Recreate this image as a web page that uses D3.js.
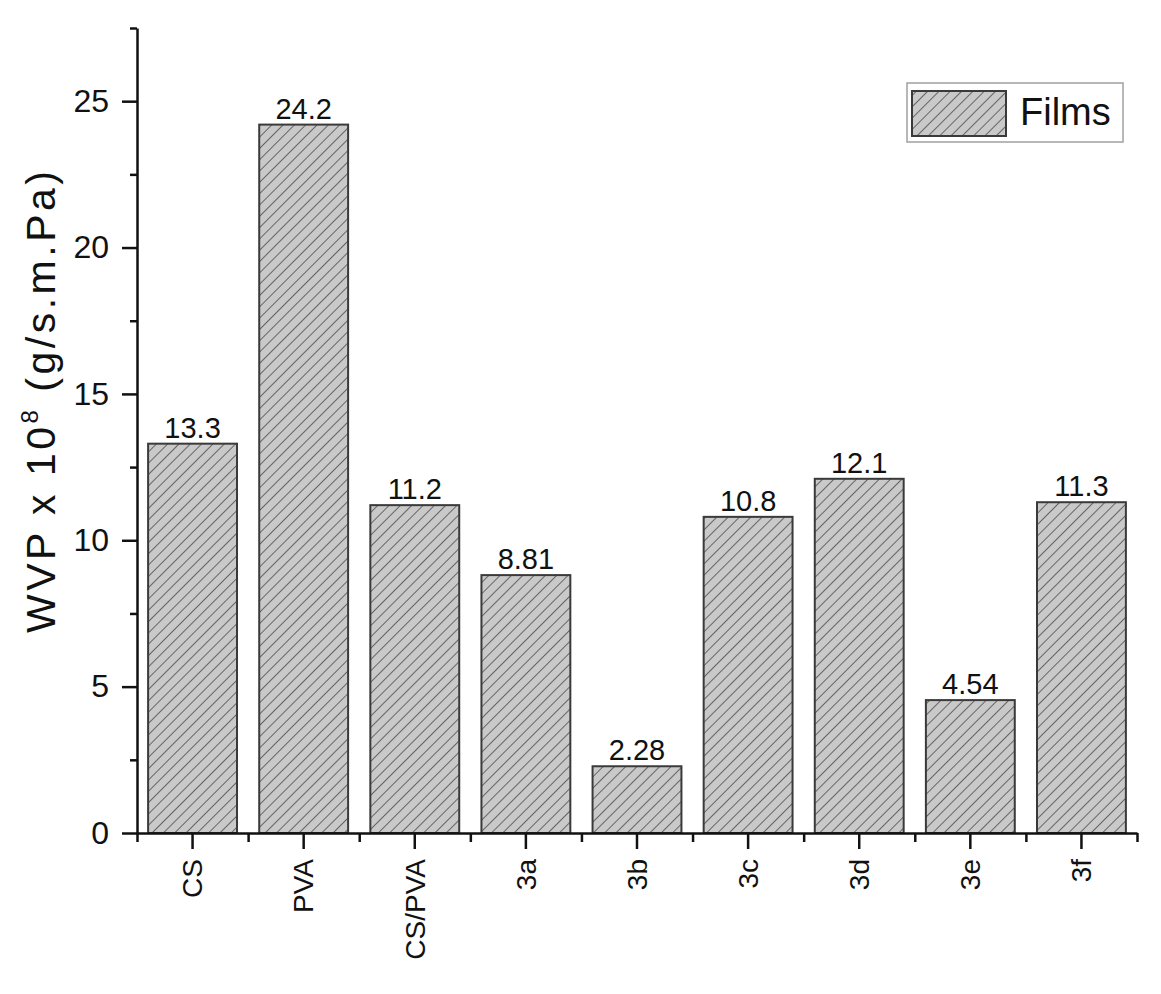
<!DOCTYPE html>
<html>
<head>
<meta charset="utf-8">
<script src="https://cdn.jsdelivr.net/npm/d3@7"></script>
<style>
body { margin: 0; background: #fff; }
svg { font-family: "Liberation Sans", Arial, sans-serif; }
.axis path, .axis line { stroke: #111; stroke-width: 2.5; }
.axis text { fill: #111; }
</style>
</head>
<body>
<svg width="1161" height="994"></svg>
<script>
//data
var films = ['CS', 'PVA', 'CS/PVA', '3a', '3b', '3c', '3d', '3e', '3f'];
var wvp = [13.3, 24.2, 11.2, 8.81, 2.28, 10.8, 12.1, 4.54, 11.3];
var valueLabels = ['13.3', '24.2', '11.2', '8.81', '2.28', '10.8', '12.1', '4.54', '11.3'];
var yTicks = [0, 5, 10, 15, 20, 25];
var yMinorTicks = [2.5, 7.5, 12.5, 17.5, 22.5, 27.5];
var legendLabel = 'Films';

var graph = d3.select('svg');

//hatch pattern for bars
var defs = graph.append('defs');
var hatch = defs.append('pattern')
	.attr('id', 'hatch')
	.attr('patternUnits', 'userSpaceOnUse')
	.attr('width', 8)
	.attr('height', 8)
	.attr('patternTransform', 'rotate(45)');
hatch.append('rect')
	.attr('width', 8).attr('height', 8)
	.attr('fill', '#c9c9c9');
hatch.append('line')
	.attr('x1', 0).attr('y1', 0).attr('x2', 0).attr('y2', 8)
	.attr('stroke', '#444')
	.attr('stroke-width', 1.5);

//scales
var xScale = d3.scaleBand()
	.domain(films)
	.range([137, 1137])
	.paddingInner(0.2)
	.paddingOuter(0.1);

//band edges for the minor ticks
var xEdge = d3.scaleLinear()
	.domain([0, films.length])
	.range([137, 1137]);

var yScale = d3.scaleLinear()
	.domain([0, 27.5])
	.range([833, 28]);

//bars
var rows = films.map((f, i) => ({film: f, value: wvp[i], label: valueLabels[i]}));

graph.append('g').selectAll('rect')
	.data(rows)
	.enter().append('rect')
	.attr('x', d => xScale(d.film))
	.attr('y', d => yScale(d.value))
	.attr('width', xScale.bandwidth())
	.attr('height', d => yScale(0) - yScale(d.value))
	.attr('fill', 'url(#hatch)')
	.attr('stroke', '#3a3a3a')
	.attr('stroke-width', 2);

graph.append('g').selectAll('text')
	.data(rows)
	.enter().append('text')
	.attr('x', d => xScale(d.film) + xScale.bandwidth() / 2)
	.attr('y', d => yScale(d.value) - 6)
	.attr('text-anchor', 'middle')
	.attr('font-size', 29)
	.attr('fill', '#111')
	.text(d => d.label);

//y axis
var yAxis = d3.axisLeft(yScale)
	.tickValues(yTicks)
	.tickSize(15)
	.tickSizeOuter(0)
	.tickPadding(13)
	.tickFormat(d3.format('d'));

graph.append('g')
	.attr('class', 'axis')
	.attr('transform', 'translate(137,0)')
	.call(yAxis)
	.call(g => g.selectAll('text').attr('font-size', 32).attr('font-family', null));

graph.append('g')
	.attr('class', 'axis')
	.attr('transform', 'translate(137,0)')
	.call(d3.axisLeft(yScale).tickValues(yMinorTicks).tickSize(7).tickFormat(''))
	.call(g => g.select('.domain').remove());

//x axis
var xAxis = d3.axisBottom(xScale)
	.tickSize(16)
	.tickSizeOuter(0)
	.tickPadding(0);

graph.append('g')
	.attr('class', 'axis')
	.attr('transform', 'translate(0,833)')
	.call(xAxis)
	.call(g => g.selectAll('text')
		.attr('font-size', 28)
		.attr('font-family', null)
		.attr('text-anchor', 'end')
		.attr('transform', 'rotate(-90)')
		.attr('x', -26)
		.attr('y', 0)
		.attr('dy', '0.35em'));

graph.append('g')
	.attr('class', 'axis')
	.attr('transform', 'translate(0,833)')
	.call(d3.axisBottom(xEdge).tickValues(d3.range(films.length + 1)).tickSize(9).tickFormat(''))
	.call(g => g.select('.domain').remove());

//y title
var title = graph.append('text')
	.attr('transform', 'translate(55,402) rotate(-90)')
	.attr('text-anchor', 'middle')
	.attr('font-size', 41)
	.attr('fill', '#111')
	.attr('textLength', 462)
	.attr('lengthAdjust', 'spacing');
title.append('tspan').text('WVP x 10');
title.append('tspan').attr('font-size', 24).attr('dy', -17).text('8');
title.append('tspan').attr('dy', 17).text(' (g/s.m.Pa)');

//legend
var legend = graph.append('g');
legend.append('rect')
	.attr('x', 907).attr('y', 83)
	.attr('width', 216).attr('height', 59)
	.attr('fill', '#fff')
	.attr('stroke', '#a0a0a0')
	.attr('stroke-width', 1.5);
legend.append('rect')
	.attr('x', 912).attr('y', 91)
	.attr('width', 94).attr('height', 45)
	.attr('fill', 'url(#hatch)')
	.attr('stroke', '#3a3a3a')
	.attr('stroke-width', 2);
legend.append('text')
	.attr('x', 1020).attr('y', 125)
	.attr('font-size', 38)
	.attr('fill', '#111')
	.text(legendLabel);
</script>
</body>
</html>
